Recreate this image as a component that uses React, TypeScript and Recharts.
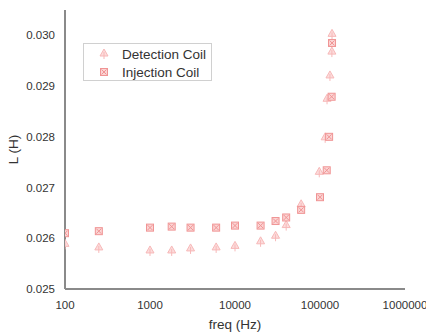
import React from 'react';
import { ScatterChart, Scatter, XAxis, YAxis, Label } from 'recharts';

const detFreq = [100, 250, 1000, 1800, 3000, 6000, 10000, 20000, 30000, 40000, 60000, 98000, 115000, 121000, 131000, 138000, 138500];
const detL = [0.02588, 0.02581, 0.02575, 0.02575, 0.02579, 0.02581, 0.02584, 0.02593, 0.02604, 0.02625, 0.02666, 0.0273, 0.02798, 0.02874, 0.0292, 0.02967, 0.03002];
const injFreq = [100, 250, 1000, 1800, 3000, 6000, 10000, 20000, 30000, 40000, 60000, 100000, 120000, 128000, 137000, 138500];
const injL = [0.0261, 0.02614, 0.02621, 0.02623, 0.02621, 0.02621, 0.02625, 0.02625, 0.02634, 0.02641, 0.02656, 0.02681, 0.02734, 0.028, 0.02879, 0.02985];
const xTicks = [100, 1000, 10000, 100000, 1000000];
const yTicks = [0.025, 0.026, 0.027, 0.028, 0.029, 0.03];
const seriesNames = ['Detection Coil', 'Injection Coil'];

const detData = detFreq.map((f, i) => ({ f, L: detL[i] }));
const injData = injFreq.map((f, i) => ({ f, L: injL[i] }));

const FONT = '"Liberation Sans", Arial, Helvetica, sans-serif';

const Tri = ({ cx, cy }: any) => (
  <g>
    <polygon
      points={`${cx},${cy - 5} ${cx - 4},${cy + 2} ${cx + 4},${cy + 2}`}
      fill="#fcdcdc"
      stroke="#f7b8b8"
      strokeWidth={1}
    />
    <line x1={cx} y1={cy - 2} x2={cx} y2={cy + 5} stroke="#f7b8b8" strokeWidth={1} />
  </g>
);

const Sq = ({ cx, cy }: any) => (
  <g>
    <rect x={cx - 3.5} y={cy - 3.5} width={7} height={7} fill="#fbd4d4" stroke="#f09494" strokeWidth={1} />
    <line x1={cx - 2.5} y1={cy - 2.5} x2={cx + 2.5} y2={cy + 2.5} stroke="#f09494" strokeWidth={1} />
    <line x1={cx + 2.5} y1={cy - 2.5} x2={cx - 2.5} y2={cy + 2.5} stroke="#f09494" strokeWidth={1} />
  </g>
);

const LegendBox = () => (
  <div
    style={{
      position: 'absolute',
      left: 83,
      top: 43,
      width: 129,
      height: 38,
      border: '1px solid #d0d0d0',
      background: '#fff',
      fontFamily: FONT,
      fontSize: 13.5,
      color: '#333',
      boxSizing: 'border-box',
    }}
  >
    {seriesNames.map((n, i) => (
      <div key={n} style={{ display: 'flex', alignItems: 'center', height: 18, marginTop: i === 0 ? 1 : 0 }}>
        <svg width={38} height={18}>
          {i === 0 ? <Tri cx={20} cy={9} /> : <Sq cx={20} cy={9} />}
        </svg>
        <span>{n}</span>
      </div>
    ))}
  </div>
);

export default function App() {
  return (
    <div style={{ position: 'absolute', left: 0, top: 0, width: 426, height: 336, background: '#fff' }}>
      <ScatterChart width={426} height={336} margin={{ top: 10, right: 21, bottom: 0, left: 0 }}>
        <XAxis
          dataKey="f"
          type="number"
          scale="log"
          domain={[100, 1000000]}
          ticks={xTicks}
          allowDataOverflow
          axisLine={{ stroke: '#8a8a8a', strokeWidth: 2 }}
          tickLine={false}
          tickMargin={6}
          height={47}
          tick={{ fill: '#333', fontSize: 11.5, fontFamily: FONT }}
        >
          <Label
            content={({ viewBox }: any) => (
              <text
                x={viewBox.x + viewBox.width / 2}
                y={329}
                textAnchor="middle"
                fill="#333"
                fontSize={13.5}
                fontFamily={FONT}
              >
                freq (Hz)
              </text>
            )}
          />
        </XAxis>
        <YAxis
          dataKey="L"
          type="number"
          domain={[0.025, 0.0305]}
          ticks={yTicks}
          allowDataOverflow
          width={65}
          axisLine={{ stroke: '#8a8a8a', strokeWidth: 2 }}
          tickLine={false}
          tickMargin={4}
          tickFormatter={(v: number) => v.toFixed(3)}
          tick={{ fill: '#333', fontSize: 11.5, fontFamily: FONT }}
        >
          <Label
            content={({ viewBox }: any) => {
              const cx = 13;
              const cy = viewBox.y + viewBox.height / 2;
              return (
                <text
                  x={cx}
                  y={cy}
                  transform={`rotate(-90 ${cx} ${cy})`}
                  textAnchor="middle"
                  dominantBaseline="central"
                  fill="#333"
                  fontSize={13.5}
                  fontFamily={FONT}
                >
                  L (H)
                </text>
              );
            }}
          />
        </YAxis>
        <Scatter name={seriesNames[0]} data={detData} shape={<Tri />} isAnimationActive={false} />
        <Scatter name={seriesNames[1]} data={injData} shape={<Sq />} isAnimationActive={false} />
      </ScatterChart>
      <LegendBox />
    </div>
  );
}
